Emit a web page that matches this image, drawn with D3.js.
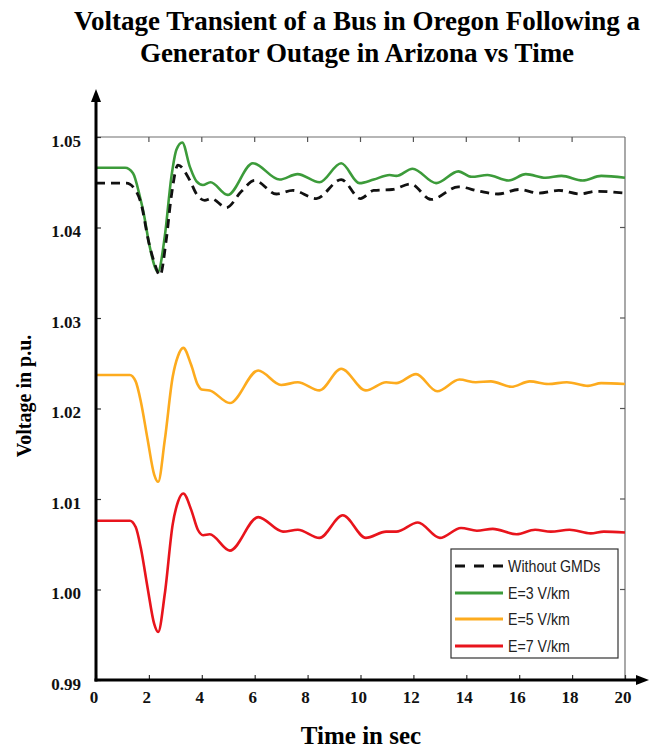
<!DOCTYPE html>
<html>
<head>
<meta charset="utf-8">
<script src="https://cdn.jsdelivr.net/npm/d3@7"></script>
<style>
  html, body { margin: 0; padding: 0; background: #fff; }
  svg { display: block; }
</style>
</head>
<body>
<svg id="chart" width="649" height="751"></svg>
<script>
// ---- Data ----
const titleLines = ["Voltage Transient of a Bus in Oregon Following a", "Generator Outage in Arizona vs Time"];
const xLabel = "Time in sec";
const yLabel = "Voltage in p.u.";
const xTicks = [0, 2, 4, 6, 8, 10, 12, 14, 16, 18, 20];
const yTicks = [0.99, 1.00, 1.01, 1.02, 1.03, 1.04, 1.05];
const seriesNames = ["Without GMDs", "E=3 V/km", "E=5 V/km", "E=7 V/km"];

const tNoGMD = [0, 1.15, 1.45, 1.7, 2.0, 2.22, 2.42, 2.65, 2.85, 3.1, 3.55, 3.8, 4.11, 4.35, 4.93, 5.5, 6.0, 6.82, 7.44, 8.33, 9.27, 10.0, 10.5, 11.2, 11.9, 12.67, 13.7, 14.5, 15.2, 16.0, 16.75, 17.5, 18.3, 18.9, 20];
const vNoGMD = [1.0449, 1.0449, 1.0443, 1.0427, 1.0383, 1.0360, 1.0347, 1.0385, 1.0435, 1.0469, 1.0452, 1.0437, 1.0430, 1.0432, 1.0422, 1.0440, 1.0452, 1.0437, 1.0441, 1.0432, 1.0453, 1.0432, 1.0441, 1.0442, 1.0448, 1.0431, 1.0445, 1.0440, 1.0437, 1.0442, 1.0438, 1.0441, 1.0437, 1.0440, 1.0438];

const tE3 = [0, 1.1, 1.4, 1.66, 1.78, 2.03, 2.22, 2.34, 2.6, 2.85, 3.04, 3.26, 3.55, 3.8, 4.04, 4.33, 4.98, 5.93, 6.94, 7.62, 8.45, 9.27, 9.96, 10.5, 11.1, 11.35, 11.97, 12.86, 13.7, 14.2, 14.8, 15.6, 16.25, 17.0, 17.6, 18.4, 19.1, 20];
const vE3 = [1.0466, 1.0466, 1.0460, 1.0434, 1.0419, 1.0379, 1.0357, 1.0351, 1.0390, 1.0456, 1.0486, 1.0494, 1.0467, 1.0451, 1.0447, 1.0450, 1.0436, 1.0471, 1.0453, 1.0459, 1.0450, 1.0471, 1.0449, 1.0453, 1.0458, 1.0457, 1.0465, 1.0449, 1.0462, 1.0456, 1.0458, 1.0452, 1.0459, 1.0455, 1.0457, 1.0452, 1.0457, 1.0455];

const tE5 = [0, 1.28, 1.5, 1.7, 1.95, 2.2, 2.35, 2.6, 2.9, 3.1, 3.3, 3.6, 3.85, 3.99, 4.3, 5.06, 6.13, 7.0, 7.63, 8.45, 9.27, 10.2, 10.97, 11.35, 12.1, 12.9, 13.74, 14.36, 14.93, 15.7, 16.4, 17.1, 17.8, 18.6, 19.1, 20];
const vE5 = [1.0237, 1.0237, 1.0230, 1.0207, 1.0166, 1.0127, 1.0119, 1.0165, 1.0235, 1.0258, 1.0267, 1.0248, 1.0226, 1.0221, 1.0220, 1.0206, 1.0242, 1.0226, 1.0229, 1.0220, 1.0244, 1.0220, 1.0229, 1.0228, 1.0238, 1.0219, 1.0232, 1.0229, 1.0230, 1.0224, 1.0230, 1.0227, 1.0229, 1.0225, 1.0228, 1.0227];

const tE7 = [0, 1.28, 1.5, 1.7, 1.95, 2.2, 2.35, 2.6, 2.9, 3.1, 3.3, 3.6, 3.85, 4.05, 4.3, 5.06, 6.13, 7.07, 7.63, 8.45, 9.33, 10.2, 10.97, 11.35, 12.17, 13.0, 13.8, 14.4, 15.0, 15.9, 16.6, 17.2, 17.9, 18.7, 19.2, 20];
const vE7 = [1.0076, 1.0076, 1.0069, 1.0045, 1.0002, 0.9962, 0.9953, 0.9995, 1.0072, 1.0097, 1.0106, 1.0088, 1.0066, 1.0060, 1.0061, 1.0043, 1.0080, 1.0064, 1.0066, 1.0057, 1.0082, 1.0057, 1.0064, 1.0064, 1.0074, 1.0057, 1.0068, 1.0065, 1.0067, 1.0061, 1.0066, 1.0064, 1.0066, 1.0062, 1.0064, 1.0063];

const seriesColors = ["#111111", "#3c9b3a", "#fdab1e", "#e8141c"];

// ---- Layout ----
const svg = d3.select("#chart");
const X0 = 96, X1 = 625, Y0 = 680, Y1 = 137;
const x = d3.scaleLinear().domain([0, 20]).range([X0, X1]);
const y = d3.scaleLinear().domain([0.99, 1.05]).range([Y0, Y1]);

// Title
svg.append("g").selectAll("text").data(titleLines).join("text")
  .attr("x", 357).attr("y", (d, i) => 30 + i * 32)
  .attr("text-anchor", "middle")
  .attr("font-family", "'Liberation Serif', 'Times New Roman', serif")
  .attr("font-weight", "bold").attr("font-size", 27)
  .attr("fill", "#000")
  .text(d => d);

// Frame (top and right, thin grey)
svg.append("line").attr("x1", X0).attr("x2", X1).attr("y1", Y1).attr("y2", Y1)
  .attr("stroke", "#6f6f6f").attr("stroke-width", 1.2);
svg.append("line").attr("x1", X1).attr("x2", X1).attr("y1", Y1).attr("y2", Y0)
  .attr("stroke", "#6f6f6f").attr("stroke-width", 1.2);

// Ticks on top and right (inward)
const tickColor = "#555";
svg.append("g").selectAll("line").data(xTicks.slice(1, -1)).join("line")
  .attr("x1", d => x(d)).attr("x2", d => x(d)).attr("y1", Y1).attr("y2", Y1 + 5)
  .attr("stroke", tickColor).attr("stroke-width", 1.2);
svg.append("g").selectAll("line").data(yTicks.slice(1, -1)).join("line")
  .attr("x1", X1).attr("x2", X1 - 5).attr("y1", d => y(d)).attr("y2", d => y(d))
  .attr("stroke", tickColor).attr("stroke-width", 1.2);

// Axes (bottom and left) via d3 axes
const tickFont = "'Liberation Serif', 'Times New Roman', serif";
const gx = svg.append("g").attr("transform", `translate(0,${Y0})`)
  .call(d3.axisBottom(x).tickValues(xTicks).tickSizeInner(-5).tickSizeOuter(0).tickPadding(11).tickFormat(d3.format("d")));
const gy = svg.append("g").attr("transform", `translate(${X0},0)`)
  .call(d3.axisLeft(y).tickValues(yTicks).tickSizeInner(-5).tickSizeOuter(0).tickPadding(15).tickFormat(d3.format(".2f")));
[gx, gy].forEach(g => {
  g.select(".domain").remove();
  g.selectAll(".tick line").attr("stroke", "#333").attr("stroke-width", 1.2);
  g.selectAll(".tick text").attr("font-family", tickFont).attr("font-weight", "bold")
    .attr("font-size", 17).attr("fill", "#111");
});
gy.selectAll(".tick text").attr("dy", "0.55em");
gx.selectAll(".tick text").attr("dx", "-0.15em");

// Series lines
const series = [
  { t: tNoGMD, v: vNoGMD, dash: "9,6" },
  { t: tE3, v: vE3, dash: null },
  { t: tE5, v: vE5, dash: null },
  { t: tE7, v: vE7, dash: null }
];
const line = d3.line().x(d => x(d[0])).y(d => y(d[1])).curve(d3.curveMonotoneX);
const drawOrder = [3, 2, 1, 0];
drawOrder.forEach(i => {
  const s = series[i];
  svg.append("path")
    .datum(s.t.map((t, k) => [t, s.v[k]]))
    .attr("d", line)
    .attr("fill", "none")
    .attr("stroke", seriesColors[i])
    .attr("stroke-width", i === 0 ? 2.8 : 2.6)
    .attr("stroke-dasharray", s.dash)
    .attr("stroke-linejoin", "round");
});

// Thick axis lines with arrowheads
svg.append("line").attr("x1", X0).attr("x2", X0).attr("y1", Y0 + 1.5).attr("y2", 100)
  .attr("stroke", "#000").attr("stroke-width", 3);
svg.append("path").attr("d", `M${X0 - 5},102 L${X0},89 L${X0 + 5},102 Z`).attr("fill", "#000");
svg.append("line").attr("x1", X0 - 1.5).attr("x2", 638).attr("y1", Y0).attr("y2", Y0)
  .attr("stroke", "#000").attr("stroke-width", 3);
svg.append("path").attr("d", `M636,${Y0 - 5} L649,${Y0} L636,${Y0 + 5} Z`).attr("fill", "#000");

// Axis titles
svg.append("text").attr("x", 361).attr("y", 744).attr("text-anchor", "middle")
  .attr("font-family", tickFont).attr("font-weight", "bold").attr("font-size", 25)
  .attr("fill", "#000").text(xLabel);
svg.append("text").attr("transform", "translate(31,396) rotate(-90)").attr("text-anchor", "middle")
  .attr("font-family", tickFont).attr("font-weight", "bold").attr("font-size", 20)
  .attr("fill", "#000").text(yLabel);

// Legend
const lg = svg.append("g");
lg.append("rect").attr("x", 451).attr("y", 549).attr("width", 167).attr("height", 109)
  .attr("fill", "#fff").attr("stroke", "#333").attr("stroke-width", 1.2);
const rowY = [566, 593, 619, 646];
seriesNames.forEach((name, i) => {
  lg.append("line").attr("x1", 455).attr("x2", 503).attr("y1", rowY[i]).attr("y2", rowY[i])
    .attr("stroke", seriesColors[i]).attr("stroke-width", i === 0 ? 3 : 2.8)
    .attr("stroke-dasharray", i === 0 ? "10,9" : null);
  lg.append("text").attr("transform", `translate(508,${rowY[i] + 6}) scale(1,1.22)`)
    .attr("font-family", "'Liberation Sans', Arial, sans-serif").attr("font-size", 14.2)
    .attr("fill", "#222").text(name);
});
</script>
</body>
</html>
